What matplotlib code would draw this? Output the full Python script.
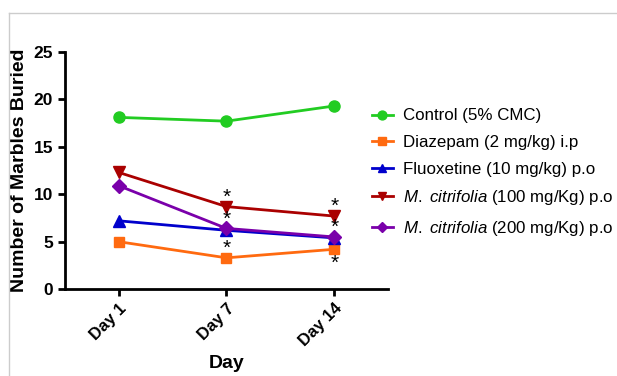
import matplotlib
matplotlib.use("Agg")
import matplotlib.pyplot as plt
from matplotlib.lines import Line2D

plt.rcParams['font.family'] = ['Liberation Sans', 'DejaVu Sans']
plt.rcParams['mathtext.fontset'] = 'custom'
plt.rcParams['mathtext.it'] = 'Liberation Sans:italic'
plt.rcParams['mathtext.rm'] = 'Liberation Sans'

# data
days = ["Day 1", "Day 7", "Day 14"]
control = [18.1, 17.7, 19.3]
diazepam = [5.0, 3.3, 4.2]
fluoxetine = [7.2, 6.2, 5.4]
mc100 = [12.3, 8.7, 7.7]
mc200 = [10.9, 6.4, 5.5]

labels = ["Control (5% CMC)",
          "Diazepam (2 mg/kg) i.p",
          "Fluoxetine (10 mg/kg) p.o",
          r"$\mathit{M.\ citrifolia}$ (100 mg/Kg) p.o",
          r"$\mathit{M.\ citrifolia}$ (200 mg/Kg) p.o"]

# significance stars: (series, day index, above/below)
stars = [(mc100, 1, 1), (mc200, 1, 1), (diazepam, 1, 1),
         (mc100, 2, 1), (mc200, 2, 1), (diazepam, 2, -1)]

fig = plt.figure(figsize=(6.17, 3.76), dpi=100)
ax = fig.add_axes([0.105, 0.231, 0.524, 0.631])

x = range(len(days))
series = [
    (control, "#22cc22", "o", 8),
    (diazepam, "#ff6a10", "s", 7),
    (fluoxetine, "#0000cc", "^", 8),
    (mc100, "#aa0000", "v", 8),
    (mc200, "#7a00aa", "D", 7),
]
for (vals, col, mk, ms), lab in zip(series, labels):
    ax.plot(x, vals, color=col, marker=mk, markersize=ms, lw=2, label=lab)

for vals, i, d in stars:
    off = 1.0 if d > 0 else -1.5
    ax.text(i, vals[i] + off, "*", ha="center", va="center", fontsize=15, color="black")

ax.set_xlim(-0.5, 2.5)
ax.set_ylim(0, 25)
ax.set_yticks([0, 5, 10, 15, 20, 25])
ax.set_xticks(list(x))
ax.set_xticklabels(days, rotation=45, ha="right", rotation_mode="anchor", fontweight="bold", fontsize=12)
for t in ax.get_yticklabels():
    t.set_fontweight("bold")
    t.set_fontsize(12.5)
ax.spines["top"].set_visible(False)
ax.spines["right"].set_visible(False)
ax.spines["left"].set_linewidth(2)
ax.spines["bottom"].set_linewidth(2)
ax.tick_params(width=2, length=5, direction="out")
ax.set_ylabel("Number of Marbles Buried", fontweight="bold", fontsize=14, labelpad=4)
ax.set_xlabel("Day", fontweight="bold", fontsize=14, labelpad=4)

ax.legend(loc="upper left", bbox_to_anchor=(0.93, 0.79), frameon=False, fontsize=12.2,
          handlelength=1.2, labelspacing=0.68, handletextpad=0.6, borderaxespad=0,
          markerscale=0.8)

# light frame lines at top and left of the picture
fig.add_artist(Line2D([9 / 617, 1], [1 - 13 / 376] * 2, color="#cccccc", lw=1))
fig.add_artist(Line2D([9 / 617] * 2, [0, 1 - 13 / 376], color="#cccccc", lw=1))

fig.savefig("out.png", dpi=100)
